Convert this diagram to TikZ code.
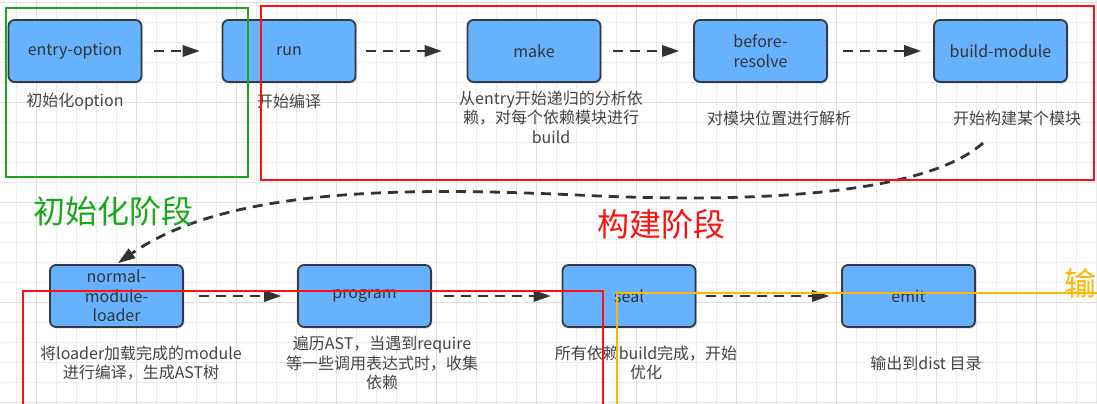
\documentclass[tikz,border=0pt]{standalone}
\usepackage{fontspec}
\newfontfamily\cjk{Noto Sans CJK SC}
\usetikzlibrary{arrows.meta,shadows}
\definecolor{boxblue}{HTML}{66B2FF}
\definecolor{boxline}{HTML}{36393D}
\definecolor{textgray}{HTML}{333333}
\definecolor{notegray}{HTML}{444444}
\definecolor{flowgray}{HTML}{333333}
\definecolor{stagegreen}{HTML}{1AA81A}
\definecolor{stagered}{HTML}{FF1010}
\definecolor{stageyellow}{HTML}{FFB800}

\begin{document}
\begin{tikzpicture}[
  x=1pt, y=-1pt,
  stepbox/.style={draw=boxline, fill=boxblue, line width=1.8pt, rounded corners=6pt,
    minimum width=133pt, minimum height=62pt, inner sep=2pt, align=center,
    text=textgray, font=\cjk\fontsize{16}{19.5}\selectfont,
    drop shadow={shadow xshift=1.5pt, shadow yshift=-1.5pt, opacity=0.25}},
  note/.style={align=center, text=notegray, inner sep=0pt,
    font=\cjk\fontsize{16}{19.5}\selectfont},
  flow/.style={line width=2.8pt, draw=flowgray, dash pattern=on 10pt off 7pt,
    -{Triangle[length=17pt, width=12pt, line width=0pt]}},
  frame/.style={line width=2pt},
  stage/.style={inner sep=0pt, font=\cjk\fontsize{32}{36}\selectfont}
]
  \useasboundingbox (0,0) rectangle (1097,404);

  % grid
  \fill[white] (0,0) rectangle (1097,404);
  \foreach \x in {16.7,36.7,...,1096.7}
    \draw[gray!15, line width=1pt] (\x,0) -- (\x,404);
  \foreach \y in {2.7,22.7,...,402.7}
    \draw[gray!15, line width=1pt] (0,\y) -- (1097,\y);
  \foreach \x in {36.7,136.7,...,1036.7}
    \draw[gray!24, line width=1.2pt] (\x,0) -- (\x,404);
  \foreach \y in {2.7,102.7,...,402.7}
    \draw[gray!24, line width=1.2pt] (0,\y) -- (1097,\y);

  % steps
  \node[stepbox] (eo)   at (75,51)     {entry-option};
  \node[stepbox] (run)  at (289,51)    {run};
  \node[stepbox] (make) at (534,51)    {make};
  \node[stepbox] (br)   at (760.5,51)  {before-\\resolve};
  \node[stepbox] (bm)   at (1000.5,51) {build-module};
  \node[stepbox] (nml)  at (116.5,296) {normal-\\module-\\loader};
  \node[stepbox] (prog) at (364.5,296) {program};
  \node[stepbox] (seal) at (629,296)   {seal};
  \node[stepbox] (emit) at (908.5,296) {emit};

  % notes
  \node[note] (eonote)   at (75,102)   {初始化option};
  \node[note] (runnote)  at (289,101)  {开始编译};
  \node[note] (makenote) at (551,117)  {从entry开始递归的分析依\\赖，对每个依赖模块进行\\build};
  \node[note] (brnote)   at (779,118)  {对模块位置进行解析};
  \node[note] (bmnote)   at (1017,118) {开始构建某个模块};
  \node[note] (nmlnote)  at (141,363)  {将loader加载完成的module\\进行编译，生成AST树};
  \node[note] (prognote) at (382,363)  {遍历AST，当遇到require\\等一些调用表达式时，收集\\依赖};
  \node[note] (sealnote) at (646,363)  {所有依赖build完成，开始\\优化};
  \node[note] (emitnote) at (926,363)  {输出到dist 目录};

  % flow
  \draw[flow, shorten <=12pt, shorten >=22pt] (eo) -- (run);
  \draw[flow, shorten <=10pt, shorten >=25pt] (run) -- (make);
  \draw[flow, shorten <=12pt, shorten >=14pt] (make) -- (br);
  \draw[flow, shorten <=15pt, shorten >=12pt] (br) -- (bm);
  \coordinate (bmout) at (983,143);
  \coordinate (bend) at (577,195);
  \draw[flow, shorten >=2pt] (bmout) .. controls (930,190) and (780,205) .. (bend)
    .. controls (420,188) and (230,185) .. (nml.north);
  \draw[flow, shorten <=15pt, shorten >=16pt] (nml) -- (prog);
  \draw[flow, shorten <=12pt, shorten >=11pt] (prog) -- (seal);
  \draw[flow, shorten <=10pt, shorten >=12pt] (seal) -- (emit);

  % stages
  \draw[frame, stagegreen] (6,8) rectangle (248,177);
  \draw[frame, stagered] (261,6) rectangle (1094,180);
  \draw[frame, stagered] (23,420) |- (603,291) -- (603,420);
  \draw[frame, stageyellow] (617,420) |- (1110,293);
  \node[stage, text=stagegreen]  (initlabel)  at (113,211) {初始化阶段};
  \node[stage, text=stagered]    (buildlabel) at (661,224) {构建阶段};
  \node[stage, text=stageyellow] (outlabel)   at (1080,283) {输};
\end{tikzpicture}
\end{document}
